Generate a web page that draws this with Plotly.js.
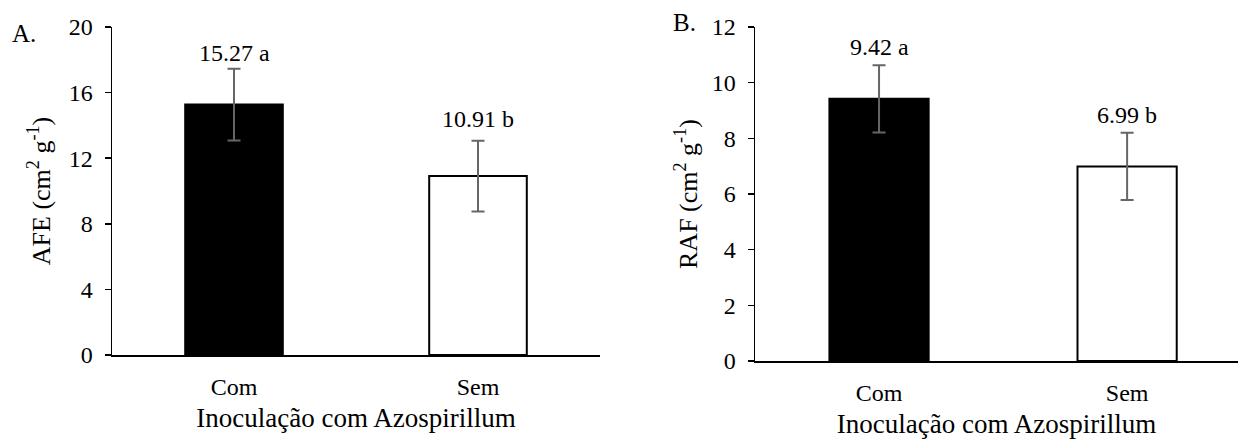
<!DOCTYPE html>
<html>
<head>
<meta charset="utf-8">
<script src="https://cdn.plot.ly/plotly-3.0.1.min.js"></script>
<style>html,body{margin:0;padding:0;background:#fff;}#chart{width:1238px;height:439px;}</style>
</head>
<body>
<div id="chart"></div>
<script>
// ---- data ----
const categories = ['Com', 'Sem'];
const afeValues = [15.27, 10.91];
const afeErrors = [2.19, 2.16];
const afeLetters = ['a', 'b'];
const rafValues = [9.42, 6.99];
const rafErrors = [1.21, 1.21];
const rafLetters = ['a', 'b'];
const afeTicks = [0, 4, 8, 12, 16, 20];
const rafTicks = [0, 2, 4, 6, 8, 10, 12];
const xTitle = 'Inoculação com Azospirillum';
const afeTitle = 'AFE (cm<sup>2</sup> g<sup>-1</sup>)';
const rafTitle = 'RAF (cm<sup>2</sup> g<sup>-1</sup>)';

const FONT = '"Liberation Serif", serif';
const fills = ['#000000', '#ffffff'];

function barTrace(vals, errs, xa, ya) {
  return {
    type: 'bar', x: categories, y: vals, xaxis: xa, yaxis: ya,
    width: 0.4,
    marker: {color: fills, line: {color: '#000', width: 2}},
    error_y: {type: 'data', array: errs, visible: true, color: '#666666', thickness: 2, width: 6.5},
    hoverinfo: 'skip', showlegend: false
  };
}

const traces = [
  barTrace(afeValues, afeErrors, 'x', 'y'),
  barTrace(rafValues, rafErrors, 'x2', 'y2')
];

const annotations = [];
const afeShift = [1, 7];
categories.forEach((c, i) => {
  annotations.push({xref: 'x', yref: 'y', x: c, y: afeValues[i] + afeErrors[i],
    text: afeValues[i].toFixed(2) + ' ' + afeLetters[i], showarrow: false,
    yanchor: 'bottom', yshift: afeShift[i], font: {family: FONT, size: 24, color: '#000'}});
  annotations.push({xref: 'x2', yref: 'y2', x: c, y: rafValues[i] + rafErrors[i],
    text: rafValues[i].toFixed(2) + ' ' + rafLetters[i], showarrow: false,
    yanchor: 'bottom', yshift: 3, font: {family: FONT, size: 24, color: '#000'}});
});
annotations.push({xref: 'paper', yref: 'paper', x: -102/1126, y: 1 - 6/334, xanchor: 'left', yanchor: 'middle',
  text: 'A.', showarrow: false, font: {family: FONT, size: 25, color: '#000'}});
annotations.push({xref: 'paper', yref: 'paper', x: (671-112)/1126, y: 1 + 4/334, xanchor: 'left', yanchor: 'middle',
  text: 'B.', showarrow: false, font: {family: FONT, size: 25, color: '#000'}});

const axY = {
  showline: true, linecolor: '#000', linewidth: 1.5, showgrid: false, zeroline: false,
  ticks: 'outside', ticklen: 6, tickcolor: '#000', tickwidth: 1.5,
  tickfont: {family: FONT, size: 24, color: '#000'}, ticklabelstandoff: 7
};
const axX = {
  type: 'category', showline: true, linecolor: '#000', linewidth: 1.5, showgrid: false, zeroline: false,
  ticks: '', tickfont: {family: FONT, size: 24, color: '#000'}, ticklabelstandoff: 10
};

const layout = {
  width: 1238, height: 439,
  margin: {l: 112, r: 0, t: 27, b: 78},
  paper_bgcolor: '#fff', plot_bgcolor: '#fff',
  font: {family: FONT, color: '#000'},
  xaxis: Object.assign({}, axX, {domain: [0, 488/1126], range: [-0.5, 1.5], anchor: 'y',
    title: {text: xTitle, font: {family: FONT, size: 27, color: '#000'}, standoff: 9}}),
  yaxis: Object.assign({}, axY, {domain: [6/334, 1], range: [0, 20], tickvals: afeTicks, anchor: 'x',
    title: {text: afeTitle, font: {family: FONT, size: 26, color: '#000'}, standoff: 10}}),
  xaxis2: Object.assign({}, axX, {domain: [643/1126, 1], range: [-0.5, 1.447], anchor: 'y2',
    title: {text: xTitle, font: {family: FONT, size: 27, color: '#000'}, standoff: 19}}),
  yaxis2: Object.assign({}, axY, {domain: [0, 1], range: [0, 12], tickvals: rafTicks, anchor: 'x2',
    title: {text: rafTitle, font: {family: FONT, size: 26, color: '#000'}, standoff: 6}}),
  annotations: annotations
};

Plotly.newPlot('chart', traces, layout, {staticPlot: true, displayModeBar: false});
</script>
</body>
</html>
